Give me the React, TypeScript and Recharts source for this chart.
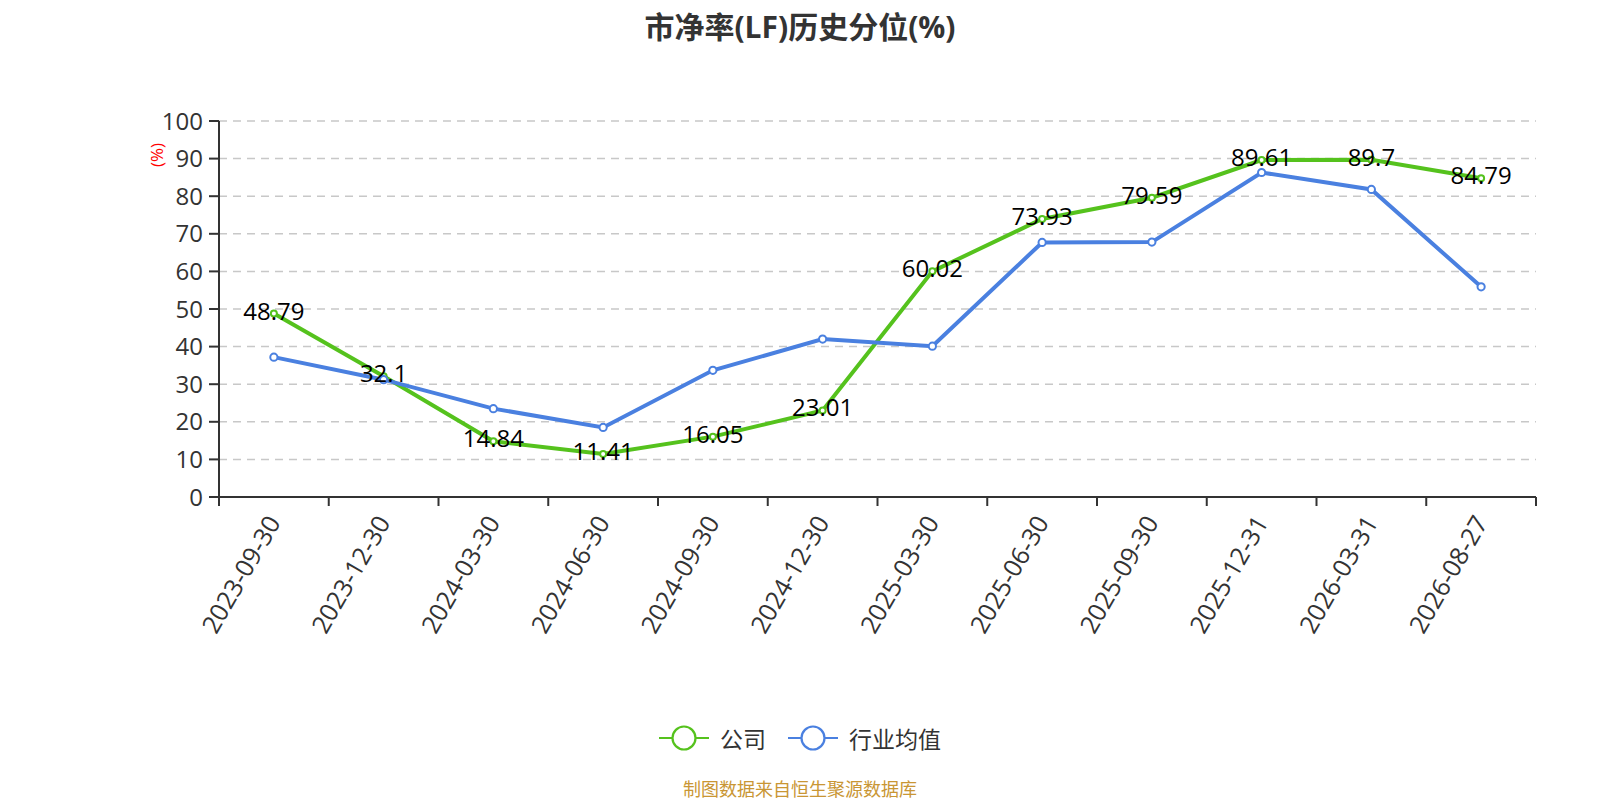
import React from 'react';
import { LineChart, Line, XAxis, YAxis, CartesianGrid, LabelList } from 'recharts';

const categories = [
  '2023-09-30', '2023-12-30', '2024-03-30', '2024-06-30', '2024-09-30', '2024-12-30',
  '2025-03-30', '2025-06-30', '2025-09-30', '2025-12-31', '2026-03-31', '2026-08-27',
];
const companyValues = [48.79, 32.1, 14.84, 11.41, 16.05, 23.01, 60.02, 73.93, 79.59, 89.61, 89.7, 84.79];
const industryValues = [37.2, 31.2, 23.5, 18.5, 33.7, 42.0, 40.1, 67.7, 67.8, 86.3, 81.8, 55.9];
const yTicks = [0, 10, 20, 30, 40, 50, 60, 70, 80, 90, 100];
const seriesNames = ['公司', '行业均值'];
const titleText = '市净率(LF)历史分位(%)';
const sourceText = '制图数据来自恒生聚源数据库';

const GREEN = '#55c21d';
const BLUE = '#4a80e0';
const FONT = "'Open Sans', 'Noto Sans CJK SC', sans-serif";

const data = categories.map((c, i) => ({
  date: c,
  pos: i + 0.5,
  company: companyValues[i],
  industry: industryValues[i],
}));

// Ticks at band boundaries (integers) get tick lines; ticks at band centres get labels.
const xTicks: number[] = [];
for (let i = 0; i <= categories.length * 2; i++) xTicks.push(i / 2);

const XTick = (props: any) => {
  const { x, y, payload } = props;
  const v = payload.value as number;
  if (Number.isInteger(v)) {
    return <line x1={x} y1={y} x2={x} y2={y + 9} stroke="#333" strokeWidth={2} />;
  }
  const label = categories[Math.floor(v)];
  return (
    <g transform={`translate(${x},${y + 21})`}>
      <text
        x={0}
        y={0}
        dy="0.35em"
        textAnchor="end"
        transform="rotate(-60)"
        fill="#333"
        fontSize={25}
        fontFamily={FONT}
      >
        {label}
      </text>
    </g>
  );
};

const ValueLabel = (props: any) => {
  const { x, y, value } = props;
  return (
    <text x={x} y={y} dy={6} textAnchor="middle" fill="#000" fontSize={24} fontFamily={FONT}>
      {value}
    </text>
  );
};

const LegendItem = ({ color, name }: { color: string; name: string }) => (
  <div style={{ display: 'flex', alignItems: 'center', marginRight: 22 }}>
    <svg width={50} height={28} style={{ display: 'block' }}>
      <line x1={0} y1={14} x2={50} y2={14} stroke={color} strokeWidth={2} />
      <circle cx={25} cy={14} r={11.5} fill="#fff" stroke={color} strokeWidth={2.2} />
    </svg>
    <span style={{ marginLeft: 11, fontSize: 23, color: '#333', fontFamily: FONT }}>{name}</span>
  </div>
);

export default function App() {
  return (
    <div style={{ position: 'absolute', left: 0, top: 0, width: 1600, height: 800, background: '#fff', fontFamily: FONT }}>
      <div
        style={{
          position: 'absolute', left: 0, top: 7, width: 1600, height: 40, lineHeight: '40px',
          textAlign: 'center', fontSize: 30, fontWeight: 'bold', color: '#333',
        }}
      >
        {titleText}
      </div>
      <div
        style={{
          position: 'absolute', left: 156.7 - 15, top: 155.3 - 10, width: 30, height: 20, lineHeight: '20px',
          textAlign: 'center', fontSize: 17, color: '#ff0000', transform: 'rotate(-90deg)',
        }}
      >
        (%)
      </div>
      <LineChart
        width={1600}
        height={800}
        data={data}
        margin={{ top: 121, right: 64, bottom: 53, left: 0 }}
      >
        <CartesianGrid vertical={false} stroke="#c8c8c8" strokeDasharray="8 6" strokeWidth={1.5} />
        <XAxis
          dataKey="pos"
          type="number"
          domain={[0, categories.length]}
          ticks={xTicks}
          interval={0}
          tick={<XTick />}
          tickLine={false}
          tickSize={0}
          tickMargin={0}
          axisLine={{ stroke: '#333', strokeWidth: 2 }}
          height={250}
          allowDataOverflow
        />
        <YAxis
          type="number"
          domain={[0, 100]}
          ticks={yTicks}
          interval={0}
          width={219}
          tickSize={10}
          tickMargin={6}
          tickLine={{ stroke: '#333', strokeWidth: 2 }}
          axisLine={{ stroke: '#333', strokeWidth: 2 }}
          tick={{ fill: '#333', fontSize: 24, fontFamily: FONT }}
        />
        <Line
          type="linear"
          dataKey="company"
          name={seriesNames[0]}
          stroke={GREEN}
          strokeWidth={4}
          dot={{ r: 3, fill: '#fff', stroke: GREEN, strokeWidth: 2 }}
          activeDot={false}
          isAnimationActive={false}
        >
          <LabelList dataKey="company" content={<ValueLabel />} />
        </Line>
        <Line
          type="linear"
          dataKey="industry"
          name={seriesNames[1]}
          stroke={BLUE}
          strokeWidth={4}
          dot={{ r: 3.6, fill: '#fff', stroke: BLUE, strokeWidth: 2 }}
          activeDot={false}
          isAnimationActive={false}
        />
      </LineChart>
      <div
        style={{
          position: 'absolute', left: 0, top: 723.7, width: 1600, height: 28,
          display: 'flex', justifyContent: 'center', alignItems: 'center',
        }}
      >
        <div style={{ display: 'flex', alignItems: 'center', marginRight: -22 }}>
          <LegendItem color={GREEN} name={seriesNames[0]} />
          <LegendItem color={BLUE} name={seriesNames[1]} />
        </div>
      </div>
      <div
        style={{
          position: 'absolute', left: 0, top: 777, width: 1600, height: 24, lineHeight: '24px',
          textAlign: 'center', fontSize: 18, color: '#c99634',
        }}
      >
        {sourceText}
      </div>
    </div>
  );
}
